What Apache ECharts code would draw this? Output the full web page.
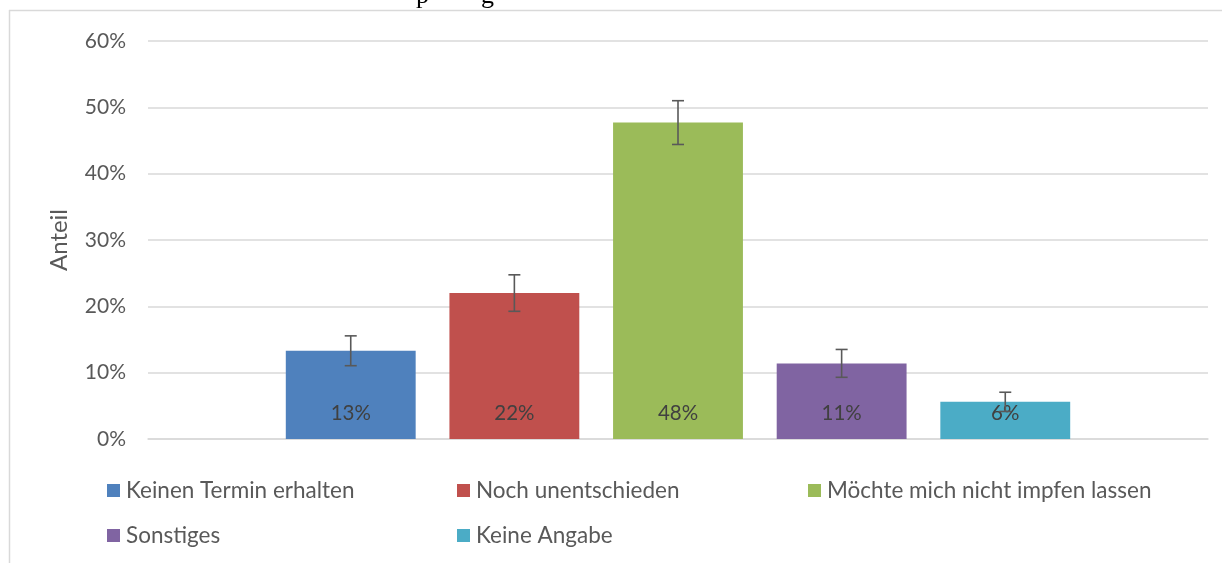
<!DOCTYPE html>
<html>
<head>
<meta charset="utf-8">
<script src="https://cdn.jsdelivr.net/npm/echarts@6/dist/echarts.min.js"></script>
<style>html,body{margin:0;padding:0;background:#fff;}#c{width:1222px;height:563px;}</style>
</head>
<body>
<div id="c"></div>
<script>
const seriesNames = ['Keinen Termin erhalten', 'Noch unentschieden', 'Möchte mich nicht impfen lassen', 'Sonstiges', 'Keine Angabe'];
const values = [13.3, 22.0, 47.7, 11.4, 5.6];
const errors = [2.25, 2.75, 3.3, 2.1, 1.45];
const colors = ['#4f81bd', '#c0504d', '#9bbb59', '#8064a2', '#4bacc6'];
const yTicks = [0, 10, 20, 30, 40, 50, 60];
const legendPos = [[107, 479], [457, 479], [808, 479], [107, 524], [457, 524]];

const FONT = 'Lato';
const CAT_GAP = 0.26, BAR_GAP = 0.26;

const chart = echarts.init(document.getElementById('c'), null, {renderer: 'canvas'});

const series = seriesNames.map((n, i) => ({
  name: n,
  type: 'bar',
  data: [values[i]],
  itemStyle: {color: colors[i]},
  barGap: (BAR_GAP * 100) + '%',
  barCategoryGap: (CAT_GAP * 100) + '%',
  label: {
    show: true,
    position: 'insideBottom',
    distance: 15,
    color: '#404040',
    fontFamily: FONT,
    fontSize: 20.5,
    formatter: p => Math.round(p.value) + '%'
  },
  z: 2
}));

const nSeries = seriesNames.length;
series.push({
  type: 'custom',
  name: 'err',
  z: 5,
  data: values.map((v, i) => [0, i, v - errors[i], v + errors[i]]),
  encode: {x: 0, y: [2, 3]},
  renderItem: function (params, api) {
    const idx = api.value(1);
    const lo = api.coord([0, api.value(2)]);
    const hi = api.coord([0, api.value(3)]);
    const band = api.size([1, 0])[0];
    const bw = band * (1 - CAT_GAP) / (nSeries + (nSeries - 1) * BAR_GAP);
    const x = lo[0] + (idx - (nSeries - 1) / 2) * bw * (1 + BAR_GAP);
    const cap = 6;
    const st = {stroke: '#595959', lineWidth: 1.6};
    return {
      type: 'group',
      children: [
        {type: 'line', shape: {x1: x, y1: lo[1], x2: x, y2: hi[1]}, style: st},
        {type: 'line', shape: {x1: x - cap, y1: lo[1], x2: x + cap, y2: lo[1]}, style: st},
        {type: 'line', shape: {x1: x - cap, y1: hi[1], x2: x + cap, y2: hi[1]}, style: st}
      ]
    };
  }
});

const legends = seriesNames.map((n, i) => ({
  data: [n],
  left: legendPos[i][0],
  top: legendPos[i][1],
  icon: 'rect',
  itemWidth: 13,
  itemHeight: 13,
  itemGap: 6,
  padding: 0,
  selectedMode: false,
  textStyle: {color: '#595959', fontFamily: FONT, fontSize: 22.5, padding: [0, 0, 0, 1]}
}));

chart.setOption({
  animation: false,
  color: colors,
  grid: {left: 148, right: 14, top: 41, bottom: 124},
  legend: legends,
  xAxis: {
    type: 'category',
    data: [''],
    axisLine: {show: true, lineStyle: {color: '#d9d9d9', width: 1.5}},
    axisTick: {show: false},
    axisLabel: {show: false}
  },
  yAxis: {
    type: 'value',
    min: yTicks[0],
    max: yTicks[yTicks.length - 1],
    interval: 10,
    name: 'Anteil',
    nameLocation: 'middle',
    nameGap: 77,
    nameTextStyle: {color: '#595959', fontFamily: FONT, fontSize: 24},
    axisLine: {show: false},
    axisTick: {show: false},
    axisLabel: {color: '#595959', fontFamily: FONT, fontSize: 21, margin: 22, formatter: '{value}%'},
    splitLine: {lineStyle: {color: '#d9d9d9', width: 1.5}}
  },
  series: series,
  graphic: [
    {type: 'line', shape: {x1: 9, y1: 10.5, x2: 1222, y2: 10.5}, style: {stroke: '#d9d9d9', lineWidth: 1.5}},
    {type: 'line', shape: {x1: 9.5, y1: 10, x2: 9.5, y2: 563}, style: {stroke: '#d9d9d9', lineWidth: 1.5}},
    {type: 'text', left: 416, top: -17, style: {text: 'p', font: '26px "Liberation Serif"', fill: '#000'}},
    {type: 'text', left: 481, top: -17, style: {text: 'g', font: '26px "Liberation Serif"', fill: '#000'}}
  ]
});
</script>
</body>
</html>
